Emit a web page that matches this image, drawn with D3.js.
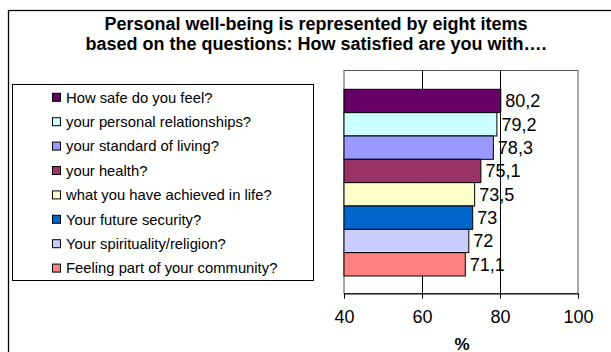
<!DOCTYPE html>
<html>
<head>
<meta charset="utf-8">
<script src="https://cdn.jsdelivr.net/npm/d3@7"></script>
<style>
  html, body { margin: 0; padding: 0; background: #fff; }
  svg { display: block; font-family: Arial, "Liberation Sans", sans-serif; }
</style>
</head>
<body>
<svg id="chart" width="611" height="352"></svg>
<script>
// ---- data ----
const titleLines = [
  "Personal well-being is represented by eight items",
  "based on the questions: How satisfied are you with…."
];
const categories = [
  "How safe do you feel?",
  "your personal relationships?",
  "your standard of living?",
  "your health?",
  "what you have achieved in life?",
  "Your future security?",
  "Your spirituality/religion?",
  "Feeling part of your community?"
];
const values = [80.2, 79.2, 78.3, 75.1, 73.5, 73, 72, 71.1];
const colors = ["#660066", "#CCFFFF", "#9999FF", "#993366", "#FFFFCC", "#0066CC", "#CCCCFF", "#FF8080"];
const xTicks = [40, 60, 80, 100];
const xLabel = "%";

// ---- layout ----
const svg = d3.select("#chart");
const plot = { left: 344, right: 578, top: 70.5, bottom: 293.5 };
const barsTop = 89.3, barsBottom = 276;

const x = d3.scaleLinear().domain([40, 100]).range([plot.left, plot.right]);
const y = d3.scaleBand().domain(categories).range([barsTop, barsBottom]).padding(0);

const locale = d3.formatLocale({decimal: ",", thousands: ".", grouping: [3], currency: ["", ""]});
const fmt = locale.format(".3~r");

// outer border
svg.append("rect")
  .attr("x", 8.5).attr("y", 10.5).attr("width", 700).attr("height", 400)
  .attr("fill", "none").attr("stroke", "#000").attr("stroke-width", 1.3);

// title
svg.append("g").selectAll("text").data(titleLines).join("text")
  .attr("x", 316).attr("y", (d, i) => 29.5 + i * 20)
  .attr("text-anchor", "middle")
  .attr("font-weight", "bold").attr("font-size", "18px").attr("fill", "#000")
  .text(d => d);

// plot area border
svg.append("rect")
  .attr("x", plot.left).attr("y", plot.top)
  .attr("width", plot.right - plot.left).attr("height", plot.bottom - plot.top)
  .attr("fill", "#fff").attr("stroke", "#555").attr("stroke-width", 1);

// gridlines
svg.append("g").selectAll("line").data(xTicks.slice(1, -1)).join("line")
  .attr("x1", d => Math.round(x(d)) + 0.5).attr("x2", d => Math.round(x(d)) + 0.5)
  .attr("y1", plot.top).attr("y2", plot.bottom)
  .attr("stroke", "#000").attr("stroke-width", 1);

// x axis
const axis = svg.append("g")
  .attr("transform", `translate(0,${plot.bottom})`)
  .call(d3.axisBottom(x).tickValues(xTicks).tickSize(5).tickPadding(12).tickFormat(d3.format("d")));
axis.select(".domain").attr("stroke", "#000");
axis.selectAll(".tick line").attr("stroke", "#000");
axis.selectAll(".tick text")
  .attr("font-size", "18px").attr("fill", "#000")
  .attr("font-family", "Arial, 'Liberation Sans', sans-serif");

svg.append("text")
  .attr("x", (plot.left + plot.right) / 2 + 1).attr("y", 349.5)
  .attr("text-anchor", "middle").attr("font-weight", "bold").attr("font-size", "17px")
  .text(xLabel);

// bars
svg.append("g").selectAll("rect").data(values).join("rect")
  .attr("x", x(40))
  .attr("y", (d, i) => y(categories[i]))
  .attr("width", d => x(d) - x(40))
  .attr("height", y.bandwidth())
  .attr("fill", (d, i) => colors[i])
  .attr("stroke", "#000").attr("stroke-width", 1);

// data labels
svg.append("g").selectAll("text").data(values).join("text")
  .attr("x", d => x(d) + 4.5)
  .attr("y", (d, i) => y(categories[i]) + y.bandwidth() / 2)
  .attr("dy", "0.36em")
  .attr("font-size", "18px").attr("fill", "#000")
  .text(d => fmt(d));

// legend
const legend = svg.append("g");
legend.append("rect")
  .attr("x", 12.5).attr("y", 84.5).attr("width", 301).attr("height", 196)
  .attr("fill", "#fff").attr("stroke", "#000").attr("stroke-width", 1);
const rowY = i => 97.3 + i * 24.4;
legend.selectAll("rect.m").data(categories).join("rect").attr("class", "m")
  .attr("x", 52.5).attr("y", (d, i) => rowY(i) - 4)
  .attr("width", 8).attr("height", 8)
  .attr("fill", (d, i) => colors[i]).attr("stroke", "#000").attr("stroke-width", 1);
legend.selectAll("text").data(categories).join("text")
  .attr("x", 66).attr("y", (d, i) => rowY(i))
  .attr("dy", "0.36em")
  .attr("font-size", "14.8px").attr("fill", "#000")
  .text(d => d);
</script>
</body>
</html>
